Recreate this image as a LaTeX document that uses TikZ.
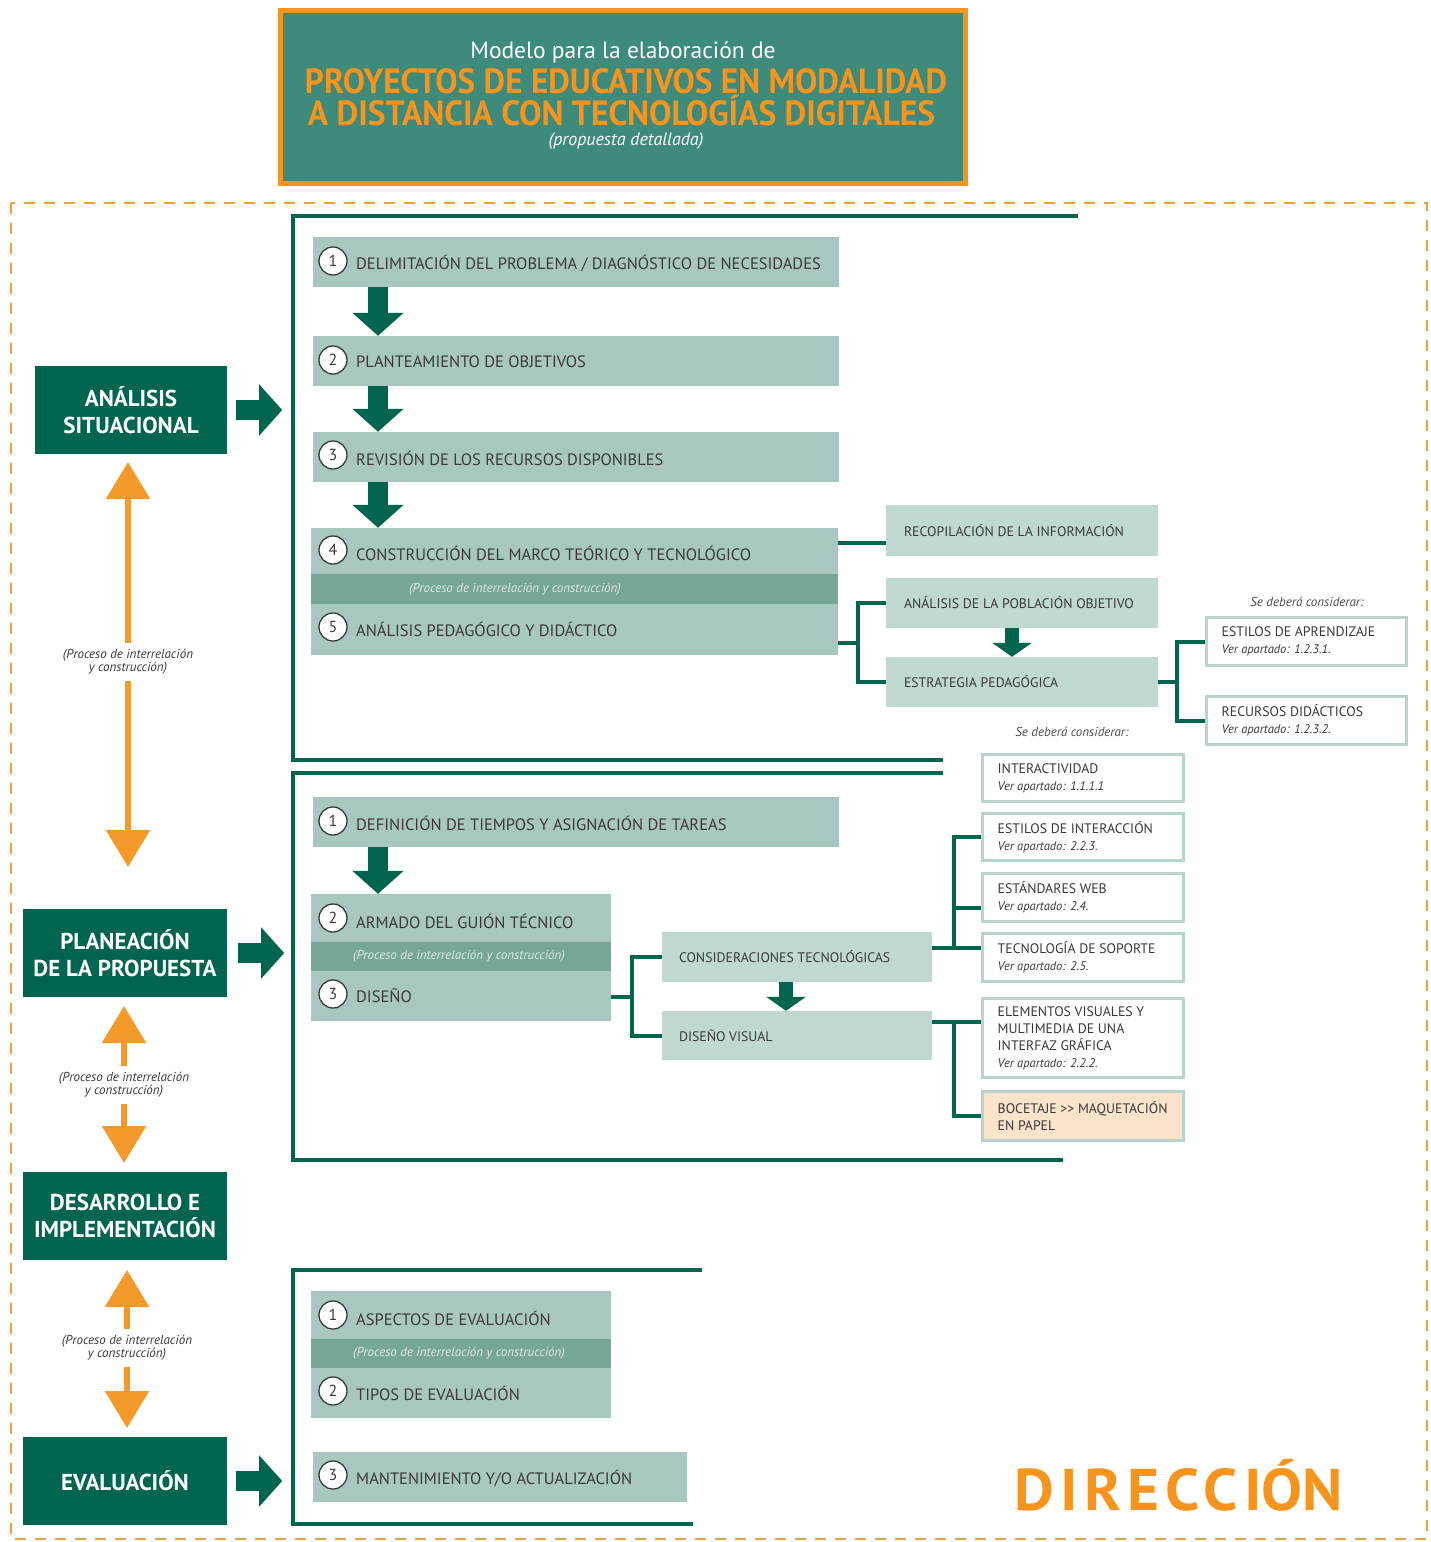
\documentclass[tikz,border=0pt]{standalone}
\usepackage{fontspec}
\usepackage{graphicx}
\setmainfont{PT Sans}
\newfontfamily\titlefont{PT Sans}
\usetikzlibrary{arrows.meta,calc}
\definecolor{dkteal}{HTML}{00654F}
\definecolor{ttlteal}{HTML}{3E8A7B}
\definecolor{orng}{HTML}{F7941D}
\definecolor{arrorng}{HTML}{F39A2B}
\definecolor{boxc}{HTML}{A8C7C0}
\definecolor{bandc}{HTML}{76A698}
\definecolor{subc}{HTML}{BFD8D2}
\definecolor{wbord}{HTML}{B9D3CD}
\definecolor{txtc}{HTML}{3A3A3A}
\definecolor{dashc}{HTML}{EBA13C}
\definecolor{peach}{HTML}{FBE3CC}
\definecolor{bandtxt}{HTML}{DCE9E5}
\newcommand{\vapt}{\itshape\fontsize{12.5}{17}\selectfont}
\tikzset{
  lbox/.style={fill=dkteal, text=white, align=center, inner sep=0pt, font=\bfseries\fontsize{23}{26.5}\selectfont},
  mbox/.style={fill=boxc, inner sep=0pt},
  bandbox/.style={fill=bandc, inner sep=0pt},
  sbox/.style={fill=subc, inner sep=0pt},
  wbox/.style={fill=white, draw=wbord, line width=3pt, inner sep=0pt},
  pbox/.style={fill=peach, draw=wbord, line width=3pt, inner sep=0pt},
  mtxt/.style={text=txtc, inner sep=0pt, font=\fontsize{16.5}{18}\selectfont},
  stxt/.style={text=txtc, inner sep=0pt, font=\fontsize{13.8}{15}\selectfont},
  wtxt/.style={text=txtc, inner sep=0pt, align=left, font=\fontsize{13.8}{17}\selectfont},
  bandtx/.style={text=bandtxt, inner sep=0pt, font=\itshape\fontsize{13}{14}\selectfont},
  numc/.style={circle, draw=txtc, line width=1.3pt, fill=white, minimum size=28pt, inner sep=0pt, text=txtc, font=\fontsize{16}{18}\selectfont},
  conn/.style={draw=dkteal, line width=4pt},
  sect/.style={draw=dkteal, line width=4pt},
  bigarr/.style={draw=dkteal, line width=20pt, -{Triangle[width=50pt,length=23pt]}},
  smarr/.style={draw=dkteal, line width=14pt, -{Triangle[width=39pt,length=14pt]}},
  oarr/.style={draw=arrorng, line width=6pt, -{Triangle[width=43pt,length=37pt]}},
  olab/.style={text=txtc, align=center, inner sep=6pt, font=\itshape\fontsize{13}{13}\selectfont},
  cons/.style={text=txtc!90, inner sep=0pt, font=\itshape\fontsize{13}{14}\selectfont}
}
\begin{document}
\begin{tikzpicture}[x=1pt,y=-1pt]
\useasboundingbox (0,0) rectangle (1430,1542);
\fill[white] (0,0) rectangle (1430,1542);
% ---------- title ----------
\node[draw=orng, line width=5pt, fill=ttlteal, minimum width=685pt, minimum height=173pt, inner sep=0pt] (title) at (623,97) {};
\node[text=white, anchor=base, inner sep=0pt, font=\titlefont\fontsize{23.5}{25}\selectfont] (tl1) at (623,58) {Modelo para la elaboración de};
\node[text=orng, anchor=base, inner sep=0pt] (tl2) at (626,93) {\resizebox{642pt}{25pt}{\titlefont\bfseries PROYECTOS DE EDUCATIVOS EN MODALIDAD}};
\node[text=orng, anchor=base, inner sep=0pt] (tl3) at (621.5,125) {\resizebox{627pt}{25pt}{\titlefont\bfseries A DISTANCIA CON TECNOLOG\smash{Í}AS DIGITALES}};
\node[text=white, anchor=base, inner sep=0pt, font=\titlefont\itshape\fontsize{18}{20}\selectfont] (tl4) at (626,145) {(propuesta detallada)};
% ---------- dashed frame ----------
\draw[dashc, line width=2pt, dash pattern=on 11pt off 9pt] (11,203) rectangle (1427,1539);
% ---------- left column ----------
\node[lbox, minimum width=192pt, minimum height=88pt] (ana) at (131,410) {ANÁLISIS\\SITUACIONAL};
\node[lbox, minimum width=204pt, minimum height=88pt] (plan) at (125,953) {PLANEACIÓN\\DE LA PROPUESTA};
\node[lbox, minimum width=204pt, minimum height=88pt] (des) at (125,1216) {DESARROLLO E\\IMPLEMENTACIÓN};
\node[lbox, minimum width=204pt, minimum height=88pt] (eval) at (125,1481) {EVALUACIÓN};
% orange double arrows
\node[olab] (lab1) at (128,662) {(Proceso de interrelación\\y construcción)};
\draw[oarr] (lab1.north) -- (128,462);
\draw[oarr] (lab1.south) -- (128,867);
\node[olab] (lab2) at (124,1085) {(Proceso de interrelación\\y construcción)};
\draw[oarr] (lab2.north) -- (124,1006);
\draw[oarr] (lab2.south) -- (124,1163);
\node[olab] (lab3) at (127,1348) {(Proceso de interrelación\\y construcción)};
\draw[oarr] (lab3.north) -- (127,1270);
\draw[oarr] (lab3.south) -- (127,1428);
% right block arrows
\draw[bigarr] ([xshift=9pt]ana.east) -- ([xshift=55pt]ana.east);
\draw[bigarr] ([xshift=11pt]plan.east) -- ([xshift=57pt]plan.east);
\draw[bigarr] ([xshift=9pt]eval.east) -- ([xshift=55pt]eval.east);
% ---------- section brackets ----------
\draw[sect] (1078,216) -- (293,216) -- (293,760) -- (943,760);
\draw[sect] (943,773) -- (293,773) -- (293,1160) -- (1063,1160);
\draw[sect] (702,1270) -- (293,1270) -- (293,1524) -- (693,1524);
% ---------- section 1 ----------
\node[mbox, minimum width=526pt, minimum height=50pt] (s1) at (576,262) {};
\node[mbox, minimum width=526pt, minimum height=50pt] (s2) at (576,361) {};
\node[mbox, minimum width=526pt, minimum height=50pt] (s3) at (576,457) {};
\node[mbox, minimum width=527pt, minimum height=127pt] (s45) at (574.5,591.5) {};
\node[bandbox, minimum width=527pt, minimum height=30pt] (s45b) at (574.5,589) {};
\node[bandtx] (s45bt) at (515,589) {(Proceso de interrelación y construcción)};
\node[numc] (s1n) at (333,261) {1};
\node[mtxt, anchor=west] (s1t) at (356,263) {DELIMITACIÓN DEL PROBLEMA / DIAGNÓSTICO DE NECESIDADES};
\node[numc] (s2n) at (333,360) {2};
\node[mtxt, anchor=west] (s2t) at (356,362) {PLANTEAMIENTO DE OBJETIVOS};
\node[numc] (s3n) at (333,455) {3};
\node[mtxt, anchor=west] (s3t) at (356,458) {REVISIÓN DE LOS RECURSOS DISPONIBLES};
\node[numc] (s4n) at (333,550) {4};
\node[mtxt, anchor=west] (s4t) at (356,553) {CONSTRUCCIÓN DEL MARCO TEÓRICO Y TECNOLÓGICO};
\node[numc] (s5n) at (333,627) {5};
\node[mtxt, anchor=west] (s5t) at (356,629) {ANÁLISIS PEDAGÓGICO Y DIDÁCTICO};
\draw[bigarr] (s1.south -| 378,0) -- (s2.north -| 378,0);
\draw[bigarr] (s2.south -| 378,0) -- (s3.north -| 378,0);
\draw[bigarr] (s3.south -| 378,0) -- (s45.north -| 378,0);
% sub boxes
\node[sbox, minimum width=272pt, minimum height=51pt] (recop) at (1022,530.5) {};
\node[sbox, minimum width=272pt, minimum height=50pt] (pob) at (1022,603) {};
\node[sbox, minimum width=272pt, minimum height=50pt] (estr) at (1022,682) {};
\node[stxt, anchor=west] (recopt) at ([xshift=18pt]recop.west) {RECOPILACIÓN DE LA INFORMACIÓN};
\node[stxt, anchor=west] (pobt) at ([xshift=18pt]pob.west) {ANÁLISIS DE LA POBLACIÓN OBJETIVO};
\node[stxt, anchor=west] (estrt) at ([xshift=18pt]estr.west) {ESTRATEGIA PEDAGÓGICA};
\draw[smarr] (pob.south -| 1012,0) -- (estr.north -| 1012,0);
\node[cons] (sdc1) at (1307,602) {Se deberá considerar:};
\node[wbox, minimum width=200pt, minimum height=48pt] (estap) at (1306.5,641.5) {};
\node[wbox, minimum width=200pt, minimum height=48pt] (recdid) at (1306.5,720.5) {};
\node[wtxt, anchor=west] (estapt) at ([xshift=16.5pt]estap.west) {ESTILOS DE APRENDIZAJE\\{\vapt Ver apartado: 1.2.3.1.}};
\node[wtxt, anchor=west] (recdidt) at ([xshift=16.5pt]recdid.west) {RECURSOS DIDÁCTICOS\\{\vapt Ver apartado: 1.2.3.2.}};
\node[cons] (sdc2) at (1072,732) {Se deberá considerar:};
% connectors section 1
\draw[conn] (s45.east |- 0,543) -- (recop.west |- 0,543);
\coordinate (b1) at (858,643);
\draw[conn] (s45.east |- b1) -- (b1);
\draw[conn] (pob.west) -| (b1) |- (estr.west);
\coordinate (b2) at (1177,682);
\draw[conn] (estr.east) -- (b2);
\draw[conn] (estap.west) -| (b2) |- (recdid.west);
% ---------- section 2 ----------
\node[mbox, minimum width=526pt, minimum height=50pt] (p1) at (576,822) {};
\node[mbox, minimum width=300pt, minimum height=127pt] (p23) at (461,957.5) {};
\node[bandbox, minimum width=300pt, minimum height=29pt] (p23b) at (461,956.5) {};
\node[bandtx] (p23bt) at (459,956.5) {(Proceso de interrelación y construcción)};
\node[numc] (p1n) at (333,821) {1};
\node[mtxt, anchor=west] (p1t) at (356,823) {DEFINICIÓN DE TIEMPOS Y ASIGNACIÓN DE TAREAS};
\node[numc] (p2n) at (333,918) {2};
\node[mtxt, anchor=west] (p2t) at (356,921) {ARMADO DEL GUIÓN TÉCNICO};
\node[numc] (p3n) at (333,994) {3};
\node[mtxt, anchor=west] (p3t) at (356,996) {DISEÑO};
\draw[bigarr] (p1.south -| 378,0) -- (p23.north -| 378,0);
\node[sbox, minimum width=270pt, minimum height=50pt] (cons) at (797,957) {};
\node[sbox, minimum width=270pt, minimum height=49pt] (disv) at (797,1035.5) {};
\node[stxt, anchor=west] (const) at ([xshift=17pt]cons.west) {CONSIDERACIONES TECNOLÓGICAS};
\node[stxt, anchor=west] (disvt) at ([xshift=17pt]disv.west) {DISEÑO VISUAL};
\draw[smarr] (cons.south -| 786,0) -- (disv.north -| 786,0);
\node[wbox, minimum width=201pt, minimum height=47pt] (inter) at (1083,778) {};
\node[wbox, minimum width=201pt, minimum height=47pt] (estint) at (1083,837) {};
\node[wbox, minimum width=201pt, minimum height=48pt] (estweb) at (1083,897.5) {};
\node[wbox, minimum width=201pt, minimum height=48pt] (tecsop) at (1083,957.5) {};
\node[wbox, minimum width=201pt, minimum height=79pt] (elem) at (1083,1038) {};
\node[pbox, minimum width=201pt, minimum height=49pt] (boc) at (1083,1116) {};
\node[wtxt, anchor=west] (intert) at ([xshift=16.5pt]inter.west) {INTERACTIVIDAD\\{\vapt Ver apartado: 1.1.1.1}};
\node[wtxt, anchor=west] (estintt) at ([xshift=16.5pt]estint.west) {ESTILOS DE INTERACCIÓN\\{\vapt Ver apartado: 2.2.3.}};
\node[wtxt, anchor=west] (estwebt) at ([xshift=16.5pt]estweb.west) {ESTÁNDARES WEB\\{\vapt Ver apartado: 2.4.}};
\node[wtxt, anchor=west] (tecsopt) at ([xshift=16.5pt]tecsop.west) {TECNOLOGÍA DE SOPORTE\\{\vapt Ver apartado: 2.5.}};
\node[wtxt, anchor=west] (elemt) at ([xshift=16.5pt]elem.west) {ELEMENTOS VISUALES Y\\MULTIMEDIA DE UNA\\INTERFAZ GRÁFICA\\{\vapt Ver apartado: 2.2.2.}};
\node[wtxt, anchor=west] (boct) at ([xshift=16.5pt]boc.west) {BOCETAJE \symbol{"3E}\symbol{"3E} MAQUETACIÓN\\EN PAPEL};
% connectors section 2
\coordinate (b3) at (632,997);
\draw[conn] (p23.east |- b3) -- (b3);
\draw[conn] (cons.west) -| (b3) |- (disv.west);
\coordinate (b4) at (954,948);
\draw[conn] (cons.east |- b4) -- (tecsop.west |- b4);
\draw[conn] (estint.west) -| (b4);
\draw[conn] (estweb.west |- 0,908) -- (954,908);
\coordinate (b5) at (954,1022);
\draw[conn] (disv.east |- b5) -- (elem.west |- b5);
\draw[conn] (b5) |- (boc.west);
% ---------- section 3 ----------
\node[mbox, minimum width=300pt, minimum height=127pt] (e12) at (461,1354.5) {};
\node[bandbox, minimum width=300pt, minimum height=29pt] (e12b) at (461,1353.5) {};
\node[bandtx] (e12bt) at (459,1353.5) {(Proceso de interrelación y construcción)};
\node[numc] (e1n) at (333,1315) {1};
\node[mtxt, anchor=west] (e1t) at (356,1318) {ASPECTOS DE EVALUACIÓN};
\node[numc] (e2n) at (333,1391) {2};
\node[mtxt, anchor=west] (e2t) at (356,1393) {TIPOS DE EVALUACIÓN};
\node[mbox, minimum width=374pt, minimum height=50pt] (e3) at (500,1477) {};
\node[numc] (e3n) at (333,1475) {3};
\node[mtxt, anchor=west] (e3t) at (356,1478) {MANTENIMIENTO Y/O ACTUALIZACIÓN};
% ---------- DIRECCION ----------
\node[text=orng, anchor=base, inner sep=0pt] (dir) at (1179,1510) {\resizebox{328pt}{42pt}{\titlefont\bfseries\addfontfeature{LetterSpace=10}DIRECCI\smash{Ó}N}};
\end{tikzpicture}
\end{document}
